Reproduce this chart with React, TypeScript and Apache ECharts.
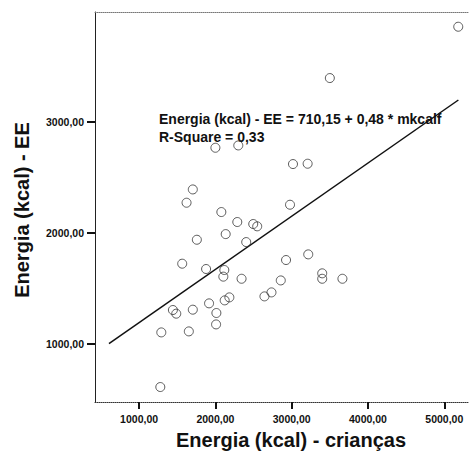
import React, { useEffect, useRef } from "react";
import * as echarts from "echarts";

const xValues = [5183, 3500, 2000, 2300, 3017, 3209, 1704, 1622, 2978, 2078, 2287, 2496, 2548, 2135, 1757, 2404, 1565, 2926, 3217, 1878, 2117, 2104, 2343, 2857, 3400, 3400, 3665, 2643, 2735, 2122, 2183, 1917, 1443, 1487, 1704, 2013, 2009, 1291, 1652, 1278];
const yValues = [3860, 3397, 2768, 2789, 2621, 2624, 2392, 2272, 2254, 2188, 2098, 2080, 2059, 1989, 1938, 1917, 1722, 1755, 1806, 1674, 1665, 1605, 1586, 1571, 1635, 1586, 1586, 1427, 1463, 1391, 1418, 1364, 1304, 1271, 1307, 1277, 1174, 1102, 1111, 609];
const fitLineX = [605, 5185];
const fitLineY = [1000, 3199];
const xTicks = [1000, 2000, 3000, 4000, 5000];
const yTicks = [1000, 2000, 3000];
const equationText = "Energia (kcal) - EE = 710,15 + 0,48 * mkcalf";
const rSquareText = "R-Square = 0,33";
const xTitle = "Energia (kcal) - crianças";
const yTitle = "Energia (kcal) - EE";

const FONT = "'Liberation Sans', Arial, sans-serif";

export default function App() {
  const ref = useRef<HTMLDivElement>(null);
  useEffect(() => {
    document.body.style.margin = "0";
    if (!ref.current) return;
    const chart = echarts.init(ref.current, null, { renderer: "svg" });
    const fmt = (v: number) => v.toFixed(2).replace(".", ",");
    const labelStyle = { fontFamily: FONT, fontSize: 10.5, fontWeight: "bold" as const, color: "#111" };
    chart.setOption({
      animation: false,
      backgroundColor: "#fff",
      grid: { left: 95, top: 12, right: -2, bottom: 64 },
      xAxis: [
        {
          type: "value",
          min: 422,
          max: 5324,
          name: xTitle,
          nameLocation: "middle",
          nameGap: 28,
          nameTextStyle: { fontFamily: FONT, fontSize: 20, fontWeight: "bold", color: "#111", padding: [0, 0, 0, 18] },
          axisLine: { show: true, lineStyle: { color: "#333", width: 1, type: "dotted" } },
          axisTick: { show: true, length: 7, lineStyle: { color: "#111", width: 2 }, customValues: xTicks },
          axisLabel: { ...labelStyle, margin: 11, formatter: fmt, customValues: xTicks },
          splitLine: { show: false },
        },
        {
          type: "value",
          position: "top",
          min: 422,
          max: 5324,
          axisLine: { show: true, lineStyle: { color: "#777", width: 1, type: "dotted" } },
          axisTick: { show: false },
          axisLabel: { show: false },
          splitLine: { show: false },
        },
      ],
      yAxis: {
        type: "value",
        min: 474,
        max: 3993,
        name: yTitle,
        nameLocation: "middle",
        nameGap: 63,
        nameRotate: 90,
        nameTextStyle: { fontFamily: FONT, fontSize: 20, fontWeight: "bold", color: "#111", padding: [0, 6, 0, 0] },
        axisLine: { show: true, lineStyle: { color: "#222", width: 1 } },
        axisTick: { show: true, length: 8, lineStyle: { color: "#111", width: 2 }, customValues: yTicks },
        axisLabel: { ...labelStyle, margin: 11, formatter: fmt, customValues: yTicks },
        splitLine: { show: false },
      },
      series: [
        {
          type: "line",
          data: fitLineX.map((x, i) => [x, fitLineY[i]]),
          showSymbol: false,
          symbol: "none",
          lineStyle: { color: "#111", width: 1.5 },
          z: 2,
        },
        {
          type: "scatter",
          data: xValues.map((x, i) => [x, yValues[i]]),
          symbol: "circle",
          symbolSize: 9,
          itemStyle: { color: "rgba(0,0,0,0)", borderColor: "#333", borderWidth: 1 },
          z: 3,
        },
      ],
      graphic: [
        {
          type: "text",
          left: 159,
          top: 112,
          style: { text: equationText, font: `bold 14px ${FONT}`, fill: "#111" },
        },
        {
          type: "text",
          left: 159,
          top: 130,
          style: { text: rSquareText, font: `bold 14px ${FONT}`, fill: "#111" },
        },
      ],
    });
    return () => chart.dispose();
  }, []);
  return <div ref={ref} style={{ width: 469, height: 466 }} />;
}
